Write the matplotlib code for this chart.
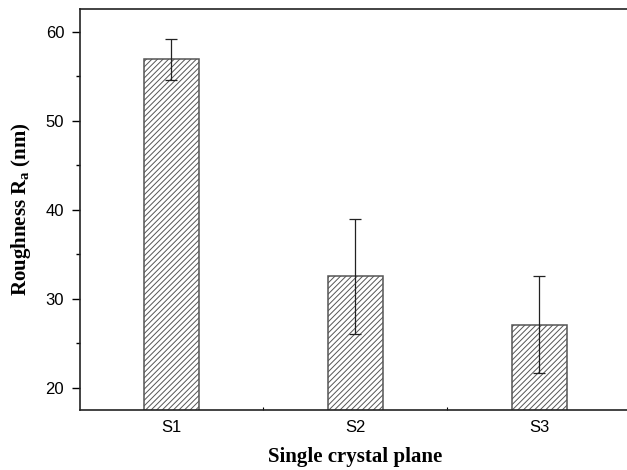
import matplotlib
matplotlib.use("Agg")
import matplotlib.pyplot as plt
from matplotlib.ticker import MultipleLocator, FixedLocator

# data
planes = ["S1", "S2", "S3"]
roughness = [56.9, 32.5, 27.1]
err_upper = [59.2, 39.0, 32.5]
err_lower = [54.6, 26.0, 21.7]

plt.rcParams['hatch.linewidth'] = 0.7
plt.rcParams['hatch.color'] = '#333333'
plt.rcParams['mathtext.fontset'] = 'custom'
plt.rcParams['mathtext.rm'] = 'Liberation Serif'
plt.rcParams['mathtext.bf'] = 'Liberation Serif:bold'

fig = plt.figure(figsize=(6.27, 4.70), dpi=100)
W, H = 627, 470
left, right, top, bottom = 79.5, 631.0, 9.0, 410.0
ax = fig.add_axes([left / W, 1 - bottom / H, (right - left) / W, (bottom - top) / H])

x = [1, 2, 3]
yerr = [[r - lo for r, lo in zip(roughness, err_lower)],
        [hi - r for r, hi in zip(roughness, err_upper)]]

ax.bar(x, roughness, width=0.30, color='white', edgecolor='#555555',
       linewidth=1.1, hatch='//////', zorder=2)
ax.errorbar(x, roughness, yerr=yerr, fmt='none', ecolor='#222222',
            elinewidth=0.9, capsize=4, capthick=0.9, zorder=3)

ax.set_xlim(0.5, 3.5)
ax.set_ylim(17.5, 62.55)
ax.set_xticks(x)
ax.set_xticklabels(planes, fontsize=12, family='Liberation Sans')
ax.xaxis.set_minor_locator(FixedLocator([1.5, 2.5]))
ax.yaxis.set_major_locator(MultipleLocator(10))
ax.yaxis.set_minor_locator(MultipleLocator(5))
for lab in ax.get_yticklabels():
    lab.set_fontsize(12)
    lab.set_family('Liberation Sans')

ax.tick_params(axis='y', which='major', direction='out', length=6, width=1.0, pad=5)
ax.tick_params(axis='y', which='minor', direction='out', length=3, width=1.0)
ax.tick_params(axis='x', which='major', direction='out', length=0, pad=7)
ax.tick_params(axis='x', which='minor', direction='in', length=2, width=0.8)

for s in ax.spines.values():
    s.set_linewidth(1.2)
    s.set_color('#222222')

ax.set_xlabel("Single crystal plane", fontsize=15, fontweight='bold',
              family='Liberation Serif', labelpad=9)
ax.set_ylabel(r"Roughness R$_\mathregular{a}$ (nm)", fontsize=15, fontweight='bold',
              family='Liberation Serif', labelpad=9)

fig.savefig("out.png", dpi=100)
